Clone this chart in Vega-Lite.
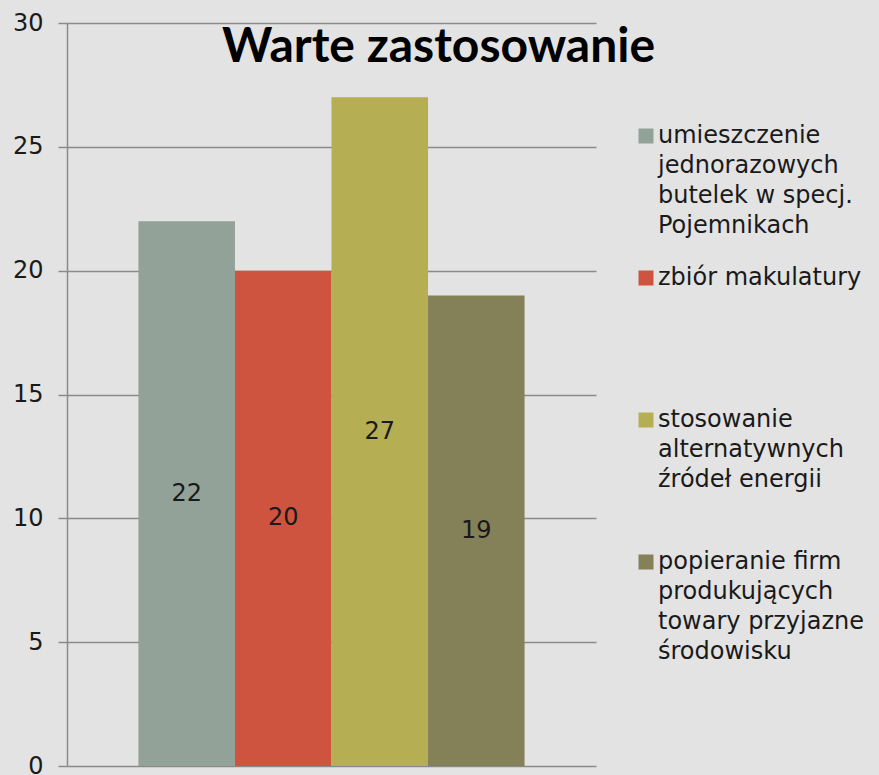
{
  "$schema": "https://vega.github.io/schema/vega-lite/v6.json",
  "width": 529,
  "height": 743,
  "autosize": "none",
  "padding": {"left": 67, "top": 23, "right": 283, "bottom": 9},
  "background": "#e3e3e3",
  "title": {
    "text": "Warte zastosowanie",
    "font": "Lato",
    "fontSize": 48,
    "fontWeight": "bold",
    "color": "#000000",
    "anchor": "middle",
    "baseline": "alphabetic",
    "offset": 0,
    "dx": 107,
    "dy": 99
  },
  "data": {
    "values": [
      {"kategoria": "umieszczenie jednorazowych butelek w specj. Pojemnikach", "wartosc": 22},
      {"kategoria": "zbiór makulatury", "wartosc": 20},
      {"kategoria": "stosowanie alternatywnych źródeł energii", "wartosc": 27},
      {"kategoria": "popieranie firm produkujących towary przyjazne środowisku", "wartosc": 19}
    ]
  },
  "encoding": {
    "x": {
      "field": "kategoria",
      "type": "nominal",
      "sort": null,
      "scale": {"paddingInner": 0, "paddingOuter": 0.74},
      "axis": null
    }
  },
  "layer": [
    {
      "mark": {"type": "bar"},
      "encoding": {
        "y": {
          "field": "wartosc",
          "type": "quantitative",
          "scale": {"domain": [0, 30], "nice": false},
          "axis": {
            "values": [0, 5, 10, 15, 20, 25, 30],
            "title": null,
            "grid": true,
            "gridColor": "#8a8a8a",
            "gridWidth": 1.5,
            "domainColor": "#8a8a8a",
            "domainWidth": 1.5,
            "tickColor": "#8a8a8a",
            "tickWidth": 1.5,
            "tickSize": 9,
            "labelFont": "DejaVu Sans",
            "labelFontSize": 24,
            "labelColor": "#1a1a1a",
            "labelPadding": 15,
            "labelFlush": false
          }
        },
        "color": {
          "field": "kategoria",
          "type": "nominal",
          "sort": null,
          "scale": {
            "domain": [
              "umieszczenie jednorazowych butelek w specj. Pojemnikach",
              "zbiór makulatury",
              "stosowanie alternatywnych źródeł energii",
              "popieranie firm produkujących towary przyjazne środowisku"
            ],
            "range": ["#93a299", "#cf543f", "#b5ae53", "#848058"]
          },
          "legend": {
            "orient": "none",
            "legendX": 567,
            "legendY": 108,
            "title": null,
            "padding": 0,
            "symbolType": "M-1,-1.933H1V0.067H-1Z",
            "symbolSize": 225,
            "symbolStrokeWidth": 0,
            "symbolOpacity": 1,
            "labelFont": "DejaVu Sans",
            "labelFontSize": 24,
            "labelColor": "#1a1a1a",
            "labelLimit": 400,
            "labelOffset": 0,
            "labelBaseline": "alphabetic",
            "gridAlign": "all",
            "rowPadding": 28,
            "labelExpr": "datum.label == 'umieszczenie jednorazowych butelek w specj. Pojemnikach' ? ['umieszczenie', 'jednorazowych', 'butelek w specj.', 'Pojemnikach'] : datum.label == 'stosowanie alternatywnych źródeł energii' ? ['stosowanie', 'alternatywnych', 'źródeł energii'] : datum.label == 'popieranie firm produkujących towary przyjazne środowisku' ? ['popieranie firm', 'produkujących', 'towary przyjazne', 'środowisku'] : datum.label"
          }
        }
      }
    },
    {
      "mark": {
        "type": "text",
        "font": "DejaVu Sans",
        "fontSize": 24,
        "color": "#1a1a1a",
        "baseline": "middle",
        "align": "center"
      },
      "encoding": {
        "y": {
          "field": "wartosc",
          "type": "quantitative",
          "scale": {"domain": [0, 60], "nice": false},
          "axis": null
        },
        "text": {"field": "wartosc", "type": "quantitative"}
      }
    }
  ],
  "resolve": {"scale": {"y": "independent"}},
  "config": {
    "view": {"stroke": null},
    "style": {"guide-label": {"lineHeight": 30}}
  }
}
